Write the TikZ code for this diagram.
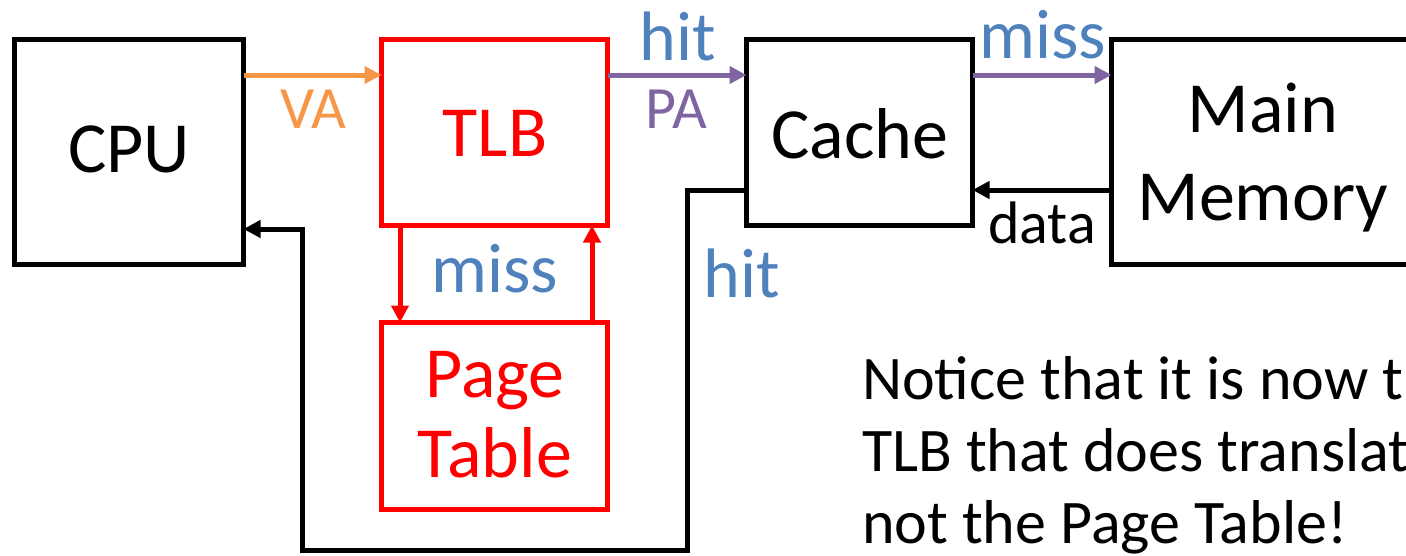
\documentclass[tikz,border=0pt]{standalone}
\usepackage{fontspec}
\setmainfont{Carlito}
\usetikzlibrary{arrows.meta}
\definecolor{cred}{HTML}{FF0000}
\definecolor{cblue}{HTML}{4F81BD}
\definecolor{cpurple}{HTML}{8064A2}
\definecolor{corange}{HTML}{F79646}
\tikzset{
  unitbox/.style={draw, line width=5pt, rectangle, inner sep=0pt, outer sep=0pt},
  blackbox/.style={unitbox, draw=black},
  redbox/.style={unitbox, draw=cred},
  boxtext/.style={inner sep=0pt, anchor=base, font=\fontsize{72}{86}\selectfont},
  bigtext/.style={inner sep=0pt, anchor=base, font=\fontsize{70}{84}\selectfont},
  smalltext/.style={inner sep=0pt, anchor=base, font=\fontsize{60}{72}\selectfont},
  notetext/.style={inner sep=0pt, anchor=base west, font=\fontsize{62}{72}\selectfont},
  conn/.style={line width=5pt, -{Triangle[length=17pt,width=17pt]}},
}
\begin{document}
\begin{tikzpicture}[x=1pt,y=-1pt]
\useasboundingbox (0,0) rectangle (1406,555);
\clip (0,0) rectangle (1406,555);
\fill[white] (0,0) rectangle (1406,555);

% boxes
\node[blackbox, minimum width=229pt, minimum height=225pt] (CPU) at (129,152) {};
\node[redbox, minimum width=226pt, minimum height=186pt] (TLB) at (494.5,132.5) {};
\node[redbox, minimum width=226pt, minimum height=187pt] (PT) at (494.5,416) {};
\node[blackbox, minimum width=226pt, minimum height=186pt] (Cache) at (859.5,132.5) {};
\node[blackbox, minimum width=300pt, minimum height=225pt] (MM) at (1261.5,152) {};

% box texts
\node[boxtext] (tCPU) at (129,172) {CPU};
\node[boxtext, text=cred] (tTLB) at (495,156) {TLB};
\node[boxtext, text=cred] (tPage) at (495,397) {Page};
\node[boxtext, text=cred] (tTable) at (495,477) {Table};
\node[boxtext] (tCache) at (860,158) {Cache};
\node[boxtext] (tMain) at (1263,132) {Main};
\node[boxtext] (tMemory) at (1263,220) {Memory};

% helper coordinates
\coordinate (yTop) at (0,75);
\coordinate (yData) at (0,190);
\coordinate (xDown) at (400,0);
\coordinate (xUp) at (592,0);
\coordinate (h1) at (687,190);
\coordinate (h2) at (687,550);
\coordinate (h3) at (302,550);
\coordinate (h4) at (302,229);

% connectors
\draw[conn, corange] (CPU.east |- yTop) -- (TLB.west |- yTop);
\draw[conn, cpurple] (TLB.east |- yTop) -- (Cache.west |- yTop);
\draw[conn, cpurple] (Cache.east |- yTop) -- (MM.west |- yTop);
\draw[conn, black] (MM.west |- yData) -- (Cache.east |- yData);
\draw[conn, cred] (TLB.south -| xDown) -- (PT.north -| xDown);
\draw[conn, cred] (PT.north -| xUp) -- (TLB.south -| xUp);
\draw[conn, black] (Cache.west |- h1) -- (h1) -- (h2) -- (h3) -- (h4) -- (CPU.east |- h4);

% labels
\node[smalltext, text=corange] (lVA) at (313,128) {VA};
\node[bigtext, text=cblue] (lHit1) at (678,60) {hit};
\node[smalltext, text=cpurple] (lPA) at (676,128) {PA};
\node[bigtext, text=cblue] (lMiss1) at (1043,58) {miss};
\node[smalltext] (lData) at (1042,243) {data};
\node[bigtext, text=cblue] (lMiss2) at (495,292) {miss};
\node[bigtext, text=cblue] (lHit2) at (742,297) {hit};

% note
\node[notetext] (n1) at (862,399) {Notice that it is now the};
\node[notetext] (n2) at (862,471) {TLB that does translation,};
\node[notetext] (n3) at (862,543) {not the Page Table!};
\end{tikzpicture}
\end{document}
